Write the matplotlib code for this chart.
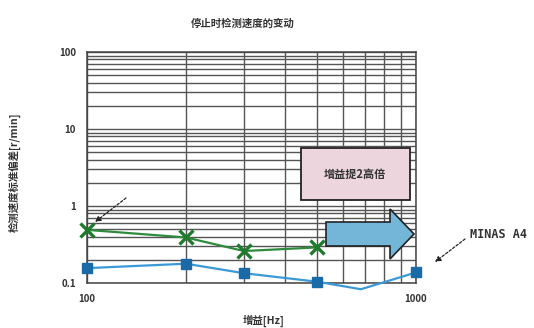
import matplotlib
matplotlib.use("Agg")
import matplotlib.pyplot as plt
from matplotlib.patches import Rectangle, Polygon
from matplotlib.ticker import FixedLocator, NullFormatter

plt.rcParams['font.family'] = ['Noto Sans CJK SC', 'DejaVu Sans']

# Data
green_x = [100, 200, 300, 500]
green_y = [0.49, 0.39, 0.26, 0.29]
blue_x = [100, 200, 300, 500, 680, 1000]
blue_y = [0.156, 0.178, 0.134, 0.104, 0.083, 0.137]
blue_marked = [0, 1, 2, 3, 5]
x_ticks = [100, 1000]
x_ticklabels = ["100", "1000"]
y_ticks = [0.1, 1, 10, 100]
y_ticklabels = ["0.1", "1", "10", "100"]

title = "停止时检测速度的变动"
xlabel = "增益[Hz]"
ylabel = "检测速度标准偏差[r/min]"
box_text = "增益提2高倍"
series_label = "MINAS A4"

W, H = 534, 328
fig = plt.figure(figsize=(W / 100, H / 100), dpi=100)
ax = fig.add_axes([87 / W, (H - 283) / H, 329 / W, 231 / H])

ax.set_xscale('log')
ax.set_yscale('log')
ax.set_xlim(100, 1000)
ax.set_ylim(0.1, 100)

ax.xaxis.set_major_locator(FixedLocator(x_ticks))
ax.set_xticklabels(x_ticklabels)
ax.xaxis.set_minor_locator(FixedLocator([v * 100 for v in range(2, 10)]))
ax.xaxis.set_minor_formatter(NullFormatter())
ax.yaxis.set_major_locator(FixedLocator(y_ticks))
ax.set_yticklabels(y_ticklabels)
minors = [m * d for d in (0.1, 1, 10) for m in range(2, 10)]
ax.yaxis.set_minor_locator(FixedLocator(minors))
ax.yaxis.set_minor_formatter(NullFormatter())

ax.grid(True, which='both', color='#555555', lw=1.0)
ax.tick_params(which='both', length=0, labelsize=7, pad=8)
for lab in ax.get_xticklabels() + ax.get_yticklabels():
    lab.set_fontweight('bold')
    lab.set_color('#333333')
for s in ax.spines.values():
    s.set_color('#444444')
    s.set_linewidth(1.1)

ax.plot(green_x, green_y, color='#2e8b3e', lw=1.6, marker='x', ms=10,
        mew=2.4, mec='#1f7a2e', zorder=4, clip_on=False)
ax.plot(blue_x, blue_y, color='#3a9ad8', lw=1.6, marker='s', ms=6.5,
        mfc='#1a6aa8', mec='#1a6aa8', markevery=blue_marked, zorder=4,
        clip_on=False)

fig.text(243 / W, 1 - 24 / H, title, ha='center', va='center',
         fontsize=7.5, fontweight='bold', color='#333333')
fig.text(264 / W, 1 - 321 / H, xlabel, ha='center', va='center',
         fontsize=7.5, fontweight='bold', color='#333333')
fig.text(15 / W, 1 - 172 / H, ylabel, ha='center', va='center',
         rotation=90, fontsize=7.5, fontweight='bold', color='#333333')


def fp(x, y):
    return (x / W, 1 - y / H)


# Pink box
bx0, by0 = fp(301, 200)
box = Rectangle((bx0, by0), 109 / W, 52 / H, transform=fig.transFigure,
                facecolor='#edd5de', edgecolor='#222222', lw=1.3, zorder=5)
fig.add_artist(box)
fig.text(355 / W, 1 - 174 / H, box_text, ha='center', va='center',
         fontsize=8, fontweight='bold', color='#333333', zorder=6)

# Big blue arrow
pts = [fp(326, 222), fp(390, 222), fp(390, 209), fp(414, 234),
       fp(390, 259), fp(390, 246), fp(326, 246)]
arrow = Polygon(pts, closed=True, transform=fig.transFigure,
                facecolor='#74b6d8', edgecolor='#222222', lw=1.2, zorder=5)
fig.add_artist(arrow)

# Dashed pointer arrows
ap = dict(arrowstyle='-|>', linestyle=(0, (2, 1.5)), color='#222222',
          lw=0.9, mutation_scale=8, shrinkA=0, shrinkB=0)
fig.add_artist(plt.Annotation('', xy=(95, H - 222), xytext=(126, H - 198),
                              xycoords='figure pixels',
                              textcoords='figure pixels', arrowprops=ap))
fig.add_artist(plt.Annotation('', xy=(435, H - 262), xytext=(465, H - 239),
                              xycoords='figure pixels',
                              textcoords='figure pixels', arrowprops=ap))
fig.text(470 / W, 1 - 235 / H, series_label, ha='left', va='center',
         fontsize=8.5, fontweight='bold', color='#333333',
         family=['DejaVu Sans Mono'])

fig.savefig('out.png', dpi=100)
